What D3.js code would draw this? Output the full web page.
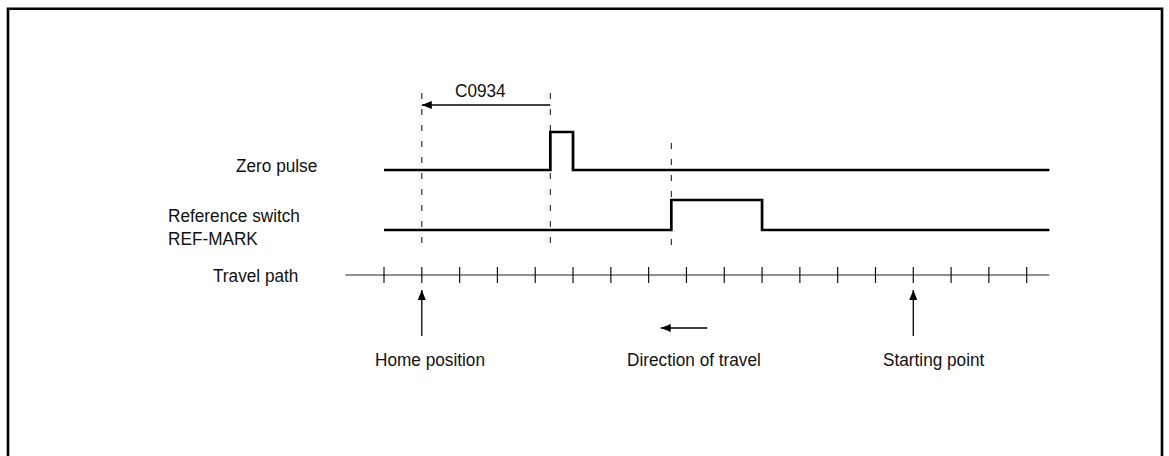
<!DOCTYPE html>
<html>
<head>
<meta charset="utf-8">
<script src="https://cdn.jsdelivr.net/npm/d3@7"></script>
<style>
  body { margin: 0; background: #fff; }
  text { font-family: "Liberation Sans", Arial, sans-serif; font-size: 18.5px; fill: #111; }
</style>
</head>
<body>
<svg width="1169" height="456"></svg>
<script>
// positions along the travel path, in tick units
var pathTicks = [0, 1, 2, 3, 4, 5, 6, 7, 8, 9, 10, 11, 12, 13, 14, 15, 16, 17];
var pathExtent = [-1.02, 17.6];

// signal levels: [position, level]
var zeroPulse = [[0, 0], [4.4, 0], [4.4, 1], [5, 1], [5, 0], [17.6, 0]];
var refSwitch = [[0, 0], [7.6, 0], [7.6, 1], [10, 1], [10, 0], [17.6, 0]];

var guideLines = [1, 4.4, 7.6];
var c0934 = {label: "C0934", from: 4.4, to: 1};
var markers = [
  {label: "Home position", pos: 1},
  {label: "Starting point", pos: 14}
];
var direction = {label: "Direction of travel", from: 8.55, to: 7.32};
var rowLabels = ["Zero pulse", "Reference switch", "REF-MARK", "Travel path"];

var svg = d3.select("svg");

var x = d3.scaleLinear().domain([0, 17]).range([384, 1026.7]);

// one small vertical scale per signal row
var yZero = d3.scaleLinear().domain([0, 1]).range([170, 132]);
var yRef = d3.scaleLinear().domain([0, 1]).range([230, 200]);
var yPath = 275;

var sx = 0.93; // narrow the type a little, the original is a semi-condensed face

// frame
svg.append("path")
    .attr("d", "M8,470 V8.7 H1162 V470")
    .attr("fill", "none")
    .attr("stroke", "#000")
    .attr("stroke-width", 2.6);

var defs = svg.append("defs");
defs.append("marker")
    .attr("id", "head")
    .attr("viewBox", "0 0 10 8")
    .attr("refX", 10)
    .attr("refY", 4)
    .attr("markerWidth", 10)
    .attr("markerHeight", 8)
    .attr("markerUnits", "userSpaceOnUse")
    .attr("orient", "auto")
  .append("path")
    .attr("d", "M0,0 L10,4 L0,8 Z")
    .attr("fill", "#000");

function label(t, px, py) {
  svg.append("text")
      .attr("transform", "translate(" + px + "," + py + ") scale(" + sx + ",1)")
      .text(t);
}

// dashed guide lines
svg.selectAll(".guide")
    .data(guideLines)
  .enter().append("line")
    .attr("class", "guide")
    .attr("x1", d => x(d))
    .attr("x2", d => x(d))
    .attr("y1", d => d == 7.6 ? 143 : 93)
    .attr("y2", 245)
    .attr("stroke", "#222")
    .attr("stroke-width", 1.1)
    .attr("stroke-dasharray", "6,10");

// C0934 arrow
svg.append("line")
    .attr("x1", x(c0934.from))
    .attr("x2", x(c0934.to))
    .attr("y1", 105)
    .attr("y2", 105)
    .attr("stroke", "#000")
    .attr("stroke-width", 1.3)
    .attr("marker-end", "url(#head)");
label(c0934.label, 455, 96.7);

// signals
var zeroLine = d3.line().x(d => x(d[0])).y(d => yZero(d[1]));
var refLine = d3.line().x(d => x(d[0])).y(d => yRef(d[1]));

svg.append("path")
    .datum(zeroPulse)
    .attr("d", zeroLine)
    .attr("fill", "none")
    .attr("stroke", "#000")
    .attr("stroke-width", 2.7);

svg.append("path")
    .datum(refSwitch)
    .attr("d", refLine)
    .attr("fill", "none")
    .attr("stroke", "#000")
    .attr("stroke-width", 2.7);

// travel path
svg.append("line")
    .attr("x1", x(pathExtent[0]))
    .attr("x2", x(pathExtent[1]))
    .attr("y1", yPath)
    .attr("y2", yPath)
    .attr("stroke", "#222")
    .attr("stroke-width", 1.2);

svg.selectAll(".tick")
    .data(pathTicks)
  .enter().append("line")
    .attr("class", "tick")
    .attr("x1", d => x(d))
    .attr("x2", d => x(d))
    .attr("y1", yPath - 8)
    .attr("y2", yPath + 8)
    .attr("stroke", "#111")
    .attr("stroke-width", 1.2);

// row labels
label(rowLabels[0], 236, 171.5);
label(rowLabels[1], 168, 221.7);
label(rowLabels[2], 168, 245);
label(rowLabels[3], 213, 281.5);

// position markers
markers.forEach(function(m) {
  svg.append("line")
      .attr("x1", x(m.pos))
      .attr("x2", x(m.pos))
      .attr("y1", 336)
      .attr("y2", 290)
      .attr("stroke", "#000")
      .attr("stroke-width", 1.3)
      .attr("marker-end", "url(#head)");
});
label(markers[0].label, 375, 366);
label(markers[1].label, 883, 366);

// direction of travel
svg.append("line")
    .attr("x1", x(direction.from))
    .attr("x2", x(direction.to))
    .attr("y1", 328)
    .attr("y2", 328)
    .attr("stroke", "#000")
    .attr("stroke-width", 1.3)
    .attr("marker-end", "url(#head)");
label(direction.label, 627, 366);
</script>
</body>
</html>
